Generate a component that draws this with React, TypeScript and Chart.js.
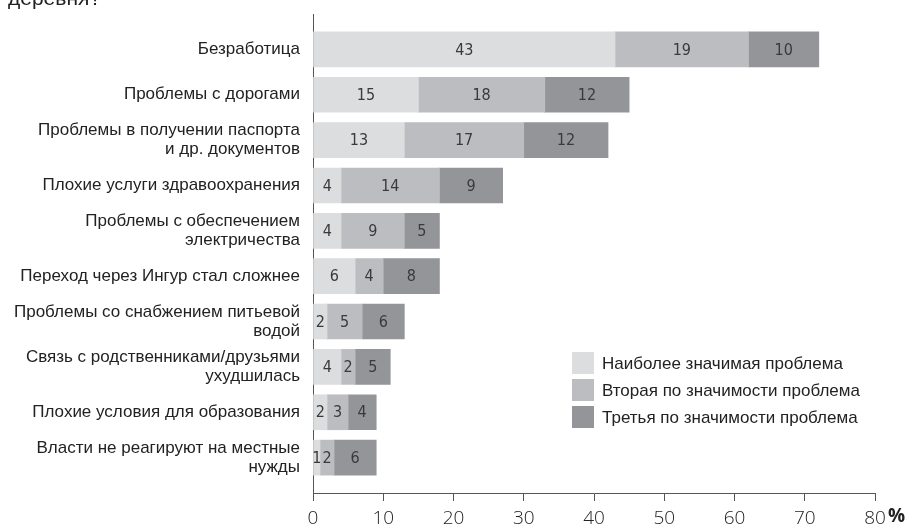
import React, { useEffect, useRef } from "react";
import { Chart, registerables } from "chart.js";

Chart.register(...registerables);

const categories: string[][] = [
  ["Безработица"],
  ["Проблемы с дорогами"],
  ["Проблемы в получении паспорта", "и др. документов"],
  ["Плохие услуги здравоохранения"],
  ["Проблемы с обеспечением", "электричества"],
  ["Переход через Ингур стал сложнее"],
  ["Проблемы со снабжением питьевой", "водой"],
  ["Связь с родственниками/друзьями", "ухудшилась"],
  ["Плохие условия для образования"],
  ["Власти не реагируют на местные", "нужды"],
];

const firstProblem = [43, 15, 13, 4, 4, 6, 2, 4, 2, 1];
const secondProblem = [19, 18, 17, 14, 9, 4, 5, 2, 3, 2];
const thirdProblem = [10, 12, 12, 9, 5, 8, 6, 5, 4, 6];

const seriesLabels = [
  "Наиболее значимая проблема",
  "Вторая по значимости проблема",
  "Третья по значимости проблема",
];
const seriesColors = ["#dcdddf", "#bcbdc0", "#939598"];

const xTicks = [0, 10, 20, 30, 40, 50, 60, 70, 80];
const titleText = "деревня?";

const LABEL_FONT = "'Liberation Sans', Arial, sans-serif";
const NUM_FONT = "'Liberation Sans Narrow', 'DejaVu Sans Condensed', sans-serif";
const TICK_FONT = "'Open Sans', sans-serif";

const Y_MIN = -0.78;
const Y_MAX = 9.78;

const extrasPlugin = {
  id: "extras",
  afterDatasetsDraw(chart: any) {
    const ctx = chart.ctx;
    ctx.save();
    // value labels
    ctx.font = `300 16px ${NUM_FONT}`;
    ctx.fillStyle = "#3a3a3a";
    ctx.textAlign = "center";
    ctx.textBaseline = "middle";
    chart.data.datasets.forEach((ds: any, di: number) => {
      const meta = chart.getDatasetMeta(di);
      meta.data.forEach((bar: any, i: number) => {
        const v = ds.data[i].x;
        const cx = (bar.x + bar.base) / 2;
        ctx.fillText(String(v), cx, bar.y + 1);
      });
    });
    // legend
    ctx.font = `17px ${LABEL_FONT}`;
    ctx.textAlign = "left";
    seriesLabels.forEach((lab, i) => {
      const y = 352 + i * 27;
      ctx.fillStyle = seriesColors[i];
      ctx.fillRect(572, y, 22, 22);
      ctx.fillStyle = "#222";
      ctx.fillText(lab, 602, y + 12);
    });
    // title fragment
    ctx.font = `21px ${LABEL_FONT}`;
    ctx.textBaseline = "alphabetic";
    ctx.fillStyle = "#222";
    ctx.fillText(titleText, 8, 5);
    // percent sign
    const xs = chart.scales.x;
    ctx.font = `bold 19px ${TICK_FONT}`;
    ctx.fillStyle = "#222";
    ctx.textAlign = "left";
    ctx.textBaseline = "top";
    ctx.fillText("%", xs.getPixelForValue(80) + 13, xs.top + 14);
    ctx.restore();
  },
};

export default function App() {
  const ref = useRef<HTMLCanvasElement | null>(null);
  useEffect(() => {
    document.body.style.margin = "0";
    const idx = categories.map((_, i) => i);
    const mk = (arr: number[]) => arr.map((v, i) => ({ x: v, y: i }));
    const chart = new Chart(ref.current as HTMLCanvasElement, {
      type: "bar",
      data: {
        datasets: [firstProblem, secondProblem, thirdProblem].map((arr, i) => ({
          label: seriesLabels[i],
          data: mk(arr),
          backgroundColor: seriesColors[i],
          borderWidth: 0,
          barThickness: 35,
        })),
      } as any,
      options: {
        indexAxis: "y",
        animation: false,
        responsive: false,
        maintainAspectRatio: false,
        layout: { padding: { top: 14, right: 32, left: 0, bottom: 0 } },
        plugins: { legend: { display: false }, tooltip: { enabled: false } },
        scales: {
          y: {
            type: "linear",
            reverse: true,
            stacked: true,
            offset: false,
            bounds: "data",
            grace: 0,
            min: Y_MIN,
            max: Y_MAX,
            afterBuildTicks: (s: any) => {
              s.ticks = idx.map((v) => ({ value: v }));
            },
            afterFit: (s: any) => {
              s.width = 313;
              s.paddingTop = 0;
              s.paddingBottom = 0;
            },
            grid: { display: false, drawTicks: false, offset: false },
            border: { display: true, color: "#555", width: 1 },
            ticks: {
              padding: 13,
              autoSkip: false,
              color: "#222",
              font: { family: LABEL_FONT, size: 17, lineHeight: 1.12 },
              callback: (v: any) => categories[v as number] ?? "",
            },
          },
          x: {
            type: "linear",
            stacked: true,
            min: 0,
            max: 80,
            afterBuildTicks: (s: any) => {
              s.ticks = xTicks.map((v) => ({ value: v }));
            },
            afterFit: (s: any) => {
              s.height = 32;
            },
            grid: { drawOnChartArea: false, drawTicks: true, tickLength: 8, color: "#555" },
            border: { display: true, color: "#555", width: 1 },
            ticks: {
              padding: 6,
              color: "#222",
              font: { family: TICK_FONT, size: 19, weight: "300" as any },
              maxRotation: 0,
            },
          },
        },
      } as any,
      plugins: [extrasPlugin],
    });
    return () => chart.destroy();
  }, []);
  return (
    <div style={{ position: "absolute", left: 0, top: 0, width: 907, height: 525 }}>
      <canvas ref={ref} width={907} height={525} style={{ width: 907, height: 525 }} />
    </div>
  );
}
